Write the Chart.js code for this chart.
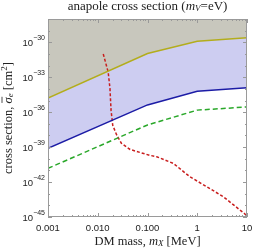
<!DOCTYPE html>
<html><head><meta charset="utf-8">
<script src="https://cdn.jsdelivr.net/npm/chart.js@4/dist/chart.umd.min.js"></script>
<style>html,body{margin:0;padding:0;background:#fff}#wrap{width:266px;height:250px}</style>
</head><body><div id="wrap"><canvas id="c" width="266" height="250"></canvas></div>
<script>
// masses in MeV, cross sections in cm^2
const massGrid = [0.001, 0.1, 1, 10];
const upperBound = [1.6e-35, 1.1e-31, 1.25e-30, 2.5e-30];      // yellow
const lowerBound = [8e-40, 4.2e-36, 6.3e-35, 1.25e-34];        // blue
const projection = [1.5e-41, 8e-38, 1.5e-36, 2.8e-36];         // green dashed
const redMass = [0.0129, 0.0162, 0.0176, 0.0185, 0.020, 0.024, 0.030, 0.0447, 0.0708, 0.11, 0.153, 0.331, 0.714, 1.55, 3.34, 9.12, 10];
const redSigma = [1.0e-31, 2.8e-33, 1.1e-34, 1.5e-36, 7.6e-38, 1.1e-38, 2.1e-39, 6.3e-40, 3.5e-40, 2.0e-40, 1.5e-40, 4.0e-41, 2.8e-42, 4.0e-43, 5.5e-44, 1.8e-45, 1.4e-45];
const xTickVals = [0.001, 0.01, 0.1, 1, 10];
const xTickLabels = ["0.001", "0.010", "0.100", "1", "10"];
const yTickExps = [-45, -42, -39, -36, -33, -30];

const pts = (xs, ys) => xs.map((x, i) => ({x: x, y: ys[i]}));

const frame = {
  id: 'frame',
  afterDatasetsDraw(chart) {
    const ctx = chart.ctx, a = chart.chartArea, xs = chart.scales.x, ys = chart.scales.y;
    ctx.save();
    ctx.strokeStyle = '#9a9a9a'; ctx.lineWidth = 1;
    ctx.strokeRect(a.left + 0.5, a.top + 0.5, a.right - a.left - 1, a.bottom - a.top - 1);
    ctx.strokeStyle = '#999';
    for (let d = -3; d <= 1; d++) {
      for (let m = 1; m <= 9; m++) {
        const v = m * Math.pow(10, d);
        if (v > 10.0001) continue;
        const px = Math.round(xs.getPixelForValue(v)) + 0.5;
        const len = m === 1 ? 4 : 2;
        ctx.beginPath();
        ctx.moveTo(px, a.bottom); ctx.lineTo(px, a.bottom - len);
        ctx.moveTo(px, a.top); ctx.lineTo(px, a.top + len);
        ctx.stroke();
      }
    }
    for (let e = -45; e <= -28; e++) {
      const py = Math.round(ys.getPixelForValue(Math.pow(10, e))) + 0.5;
      const len = (e % 3 === 0) ? 4 : 2;
      ctx.beginPath();
      ctx.moveTo(a.left, py); ctx.lineTo(a.left + len, py);
      ctx.moveTo(a.right, py); ctx.lineTo(a.right - len, py);
      ctx.stroke();
    }
    ctx.fillStyle = '#222';
    ctx.font = '9.5px "Liberation Sans", Arial, sans-serif';
    ctx.textAlign = 'center'; ctx.textBaseline = 'middle';
    xTickVals.forEach((v, i) => ctx.fillText(xTickLabels[i], xs.getPixelForValue(v), a.bottom + 11));
    yTickExps.forEach(e => {
      const py = ys.getPixelForValue(Math.pow(10, e));
      ctx.font = '7px "Liberation Sans", Arial, sans-serif';
      const sup = '\u2212' + Math.abs(e);
      const sw = ctx.measureText(sup).width;
      ctx.textAlign = 'right'; ctx.textBaseline = 'middle';
      const xr = a.left - 3;
      ctx.fillText(sup, xr, py - 4);
      ctx.font = '9.5px "Liberation Sans", Arial, sans-serif';
      ctx.fillText('10', xr - sw, py + 1);
    });
    const serif = '"Liberation Serif", "Times New Roman", serif';
    const cx = (a.left + a.right) / 2;
    drawRich(ctx, [
      {t: 'anapole cross section (', f: '13px ' + serif},
      {t: 'm', f: 'italic 13px ' + serif},
      {t: 'V', f: 'italic 9px ' + serif, dy: 2},
      {t: '=eV)', f: '13px ' + serif}
    ], cx, 7);
    drawRich(ctx, [
      {t: 'DM mass, ', f: '12.5px ' + serif},
      {t: 'm', f: 'italic 12.5px ' + serif},
      {t: 'X', f: 'italic 9px ' + serif, dy: 2},
      {t: ' [MeV]', f: '12.5px ' + serif}
    ], cx, 242);
    ctx.save();
    ctx.translate(9, (a.top + a.bottom) / 2);
    ctx.rotate(-Math.PI / 2);
    drawRich(ctx, [
      {t: 'cross section, ', f: '12.5px ' + serif},
      {t: '\u03C3', f: 'italic 12.5px ' + serif, over: true},
      {t: 'e', f: 'italic 9px ' + serif, dy: 2},
      {t: ' [cm', f: '12.5px ' + serif},
      {t: '2', f: '9px ' + serif, dy: -4},
      {t: ']', f: '12.5px ' + serif}
    ], 0, 0);
    ctx.restore();
    ctx.restore();
  }
};

function drawRich(ctx, parts, cx, cy) {
  let w = 0;
  parts.forEach(p => { ctx.font = p.f; p.w = ctx.measureText(p.t).width; w += p.w; });
  let x = cx - w / 2;
  ctx.textAlign = 'left'; ctx.textBaseline = 'middle'; ctx.fillStyle = '#222';
  parts.forEach(p => {
    ctx.font = p.f;
    ctx.fillText(p.t, x, cy + (p.dy || 0));
    if (p.over) {
      ctx.strokeStyle = '#222'; ctx.lineWidth = 0.8;
      ctx.beginPath(); ctx.moveTo(x + 0.5, cy - 7); ctx.lineTo(x + p.w + 0.5, cy - 7); ctx.stroke();
    }
    x += p.w;
  });
}

new Chart(document.getElementById('c'), {
  type: 'line',
  data: {
    datasets: [
      {data: pts(massGrid, upperBound), borderColor: '#b3ad1c', borderWidth: 1.5, fill: 'end', backgroundColor: '#c8c7bd', pointRadius: 0, tension: 0},
      {data: pts(massGrid, lowerBound), borderColor: '#1c1ca6', borderWidth: 1.5, fill: 0, backgroundColor: '#cdcdf1', pointRadius: 0, tension: 0},
      {data: pts(massGrid, projection), borderColor: '#2aa82a', borderWidth: 1.5, borderDash: [5, 3], fill: false, pointRadius: 0, tension: 0},
      {data: pts(redMass, redSigma), borderColor: '#c81e1e', borderWidth: 1.5, borderDash: [3, 2], fill: false, pointRadius: 0, tension: 0}
    ]
  },
  options: {
    responsive: false, animation: false, clip: true,
    layout: {padding: {left: 48, right: 19, top: 19, bottom: 33}},
    plugins: {legend: {display: false}, tooltip: {enabled: false}, title: {display: false}, filler: {drawTime: 'beforeDatasetsDraw'}},
    scales: {
      x: {type: 'logarithmic', min: 0.001, max: 10, display: false},
      y: {type: 'logarithmic', min: 1e-45, max: 1e-28, display: false}
    }
  },
  plugins: [frame]
});
</script></body></html>
